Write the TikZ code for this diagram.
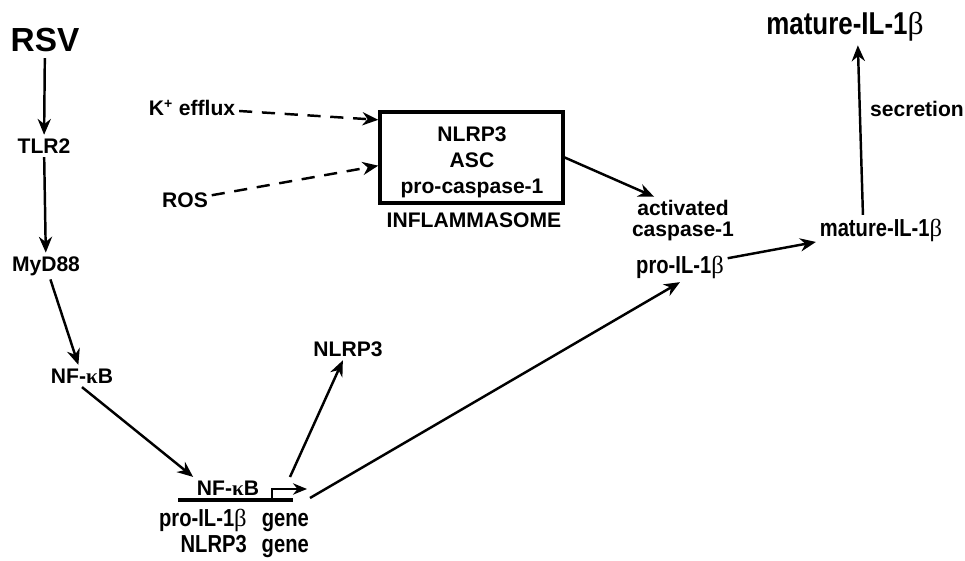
\documentclass[tikz,border=0pt]{standalone}
\usepackage{fontspec}
\setmainfont{Liberation Sans}
\newfontfamily\narrowfont{Liberation Sans}[FakeStretch=0.82]
\newfontfamily\grkfont{Liberation Serif}
\usetikzlibrary{arrows.meta, positioning}

\newcommand{\bet}{{\grkfont\mdseries β}}
\newcommand{\kap}{{\grkfont κ}}

\tikzset{
  lbl/.style={font=\fontsize{12}{14}\selectfont\bfseries, inner sep=2pt},
  nar/.style={font=\fontsize{14}{15}\selectfont\narrowfont\bfseries, inner sep=2pt},
  arr/.style={line width=1.4pt, -{Stealth[length=9pt,width=7.5pt]}},
  darr/.style={arr, dash pattern=on 7.5pt off 5.5pt},
}

\begin{document}
\begin{tikzpicture}[x=0.02cm, y=-0.02cm]
    \useasboundingbox (0,0) rectangle (965,561);
    % signalling cascade
    \node[font=\fontsize{19}{19}\selectfont\bfseries] (rsv) at (45,40) {RSV};
    \node[lbl] (tlr2) at (44,146) {TLR2};
    \node[lbl] (myd88) at (46,266) {MyD88};
    \node[lbl] (nfkb) at (82,376) {NF-\kap B};

    % genes
    \node[lbl] (genenf) at (228,488) {NF-\kap B};
    \coordinate (gl) at (178,500);
    \coordinate (gr) at (293,500);
    \coordinate (tss) at (272,500);
    \coordinate (tssend) at (307,489);
    \node[nar, anchor=north] (genes) at (234,504)
        {\begin{tabular}{@{}r@{\hspace{0.3cm}}l@{}}pro-IL-1\bet & gene\\ NLRP3 & gene\end{tabular}};
    \coordinate (out1) at (290,477);
    \coordinate (out2) at (310,498);
    \node[lbl] (nlrp3) at (348,349) {NLRP3};

    % inflammasome
    \node[draw, line width=2pt, minimum width=3.66cm, minimum height=1.82cm] (box) at (471.5,157.5) {};
    \node[lbl, align=center, font=\fontsize{12}{14.8}\selectfont\bfseries] (boxtext) at (472,162) {NLRP3\\ASC\\pro-caspase-1};
    \node[lbl] (infl) at (474,220) {INFLAMMASOME};
    \node[lbl] (kplus) at (192,108) {K\textsuperscript{+} efflux};
    \node[lbl] (ros) at (185,200) {ROS};

    % processing
    \node[lbl, align=center, font=\fontsize{12}{12}\selectfont\bfseries] (act) at (683,221) {activated\\caspase-1};
    \node[nar] (proil) at (680,267) {pro-IL-1\bet};
    \node[nar] (mat) at (881,230) {mature-IL-1\bet};
    \node[nar, font=\fontsize{18}{18}\selectfont\narrowfont\bfseries] (matop) at (845,27) {mature-IL-1\bet};
    \node[lbl] (secr) at (917,109) {secretion};

    \draw[arr] (rsv) -- (tlr2);
    \draw[arr] (tlr2) -- (myd88);
    \draw[arr] (myd88) -- (nfkb);
    \draw[arr] (nfkb.south) -- (genenf.north west);
    \draw[line width=2.2pt] (gl) -- (gr);
    \draw[line width=1.1pt, -{Stealth[length=8pt,width=6.5pt]}] (tss) |- (tssend);
    \draw[arr] (out1) -- (nlrp3);
    \draw[arr] (out2) -- (proil.south);
    \draw[darr] (kplus) -- (box.158);
    \draw[darr] (ros) -- (box.185);
    \draw[arr] (box.east) -- (act.140);
    \draw[arr] (proil) -- (mat);
    \draw[arr] (mat.140) -- (matop.-55);
\end{tikzpicture}
\end{document}
